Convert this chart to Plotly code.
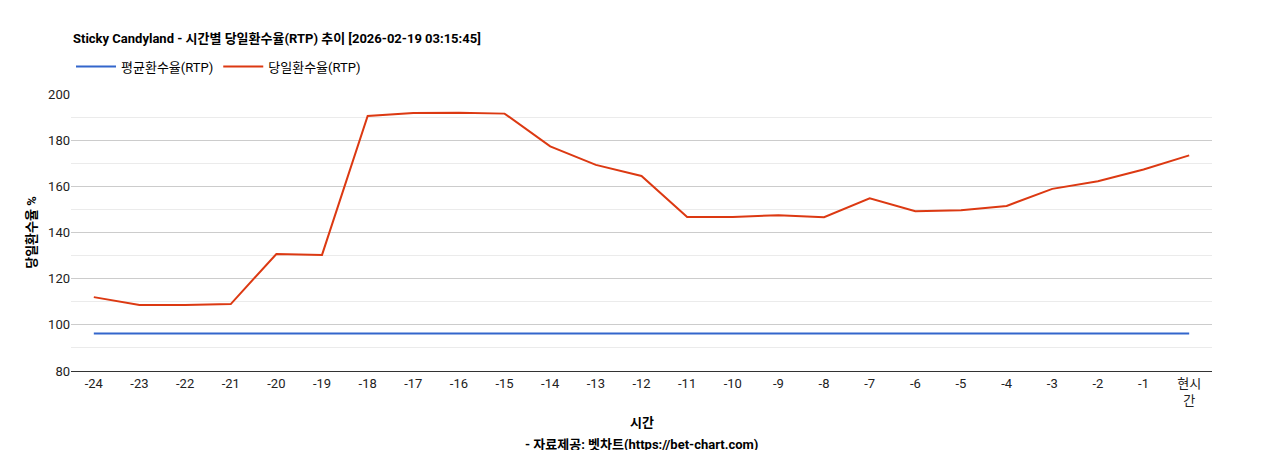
import plotly.graph_objects as go

hours = ["-24", "-23", "-22", "-21", "-20", "-19", "-18", "-17", "-16", "-15", "-14", "-13",
         "-12", "-11", "-10", "-9", "-8", "-7", "-6", "-5", "-4", "-3", "-2", "-1", "현시<br>간"]
daily_rtp = [112, 108.6, 108.6, 109, 130.7, 130.3, 190.5, 191.8, 191.9, 191.5, 177.3, 169.3,
             164.5, 146.7, 146.7, 147.5, 146.6, 154.8, 149.2, 149.6, 151.5, 158.9, 162.2, 167.3, 173.4]
avg_rtp = [96.2] * len(hours)

fig = go.Figure([
    go.Scatter(x=hours, y=avg_rtp, mode="lines", name="평균환수율(RTP)",
               line=dict(color="#3366cc", width=2)),
    go.Scatter(x=hours, y=daily_rtp, mode="lines", name="당일환수율(RTP)",
               line=dict(color="#dc3912", width=2)),
])

fig.update_layout(
    width=1268, height=450,
    font=dict(family="Roboto, Noto Sans CJK KR, Arial", size=13, color="#222"),
    plot_bgcolor="white", paper_bgcolor="white",
    margin=dict(l=63, r=64, t=86, b=87, autoexpand=False),
    legend=dict(orientation="h", x=0, xanchor="left", y=1.045, yanchor="bottom",
                font=dict(size=13, color="#000"), itemwidth=40),
    showlegend=True,
)
fig.update_xaxes(range=[-0.5, 24.5], showgrid=False, showline=True, linecolor="#333",
                 ticks="", automargin=False, tickfont=dict(size=13, color="#222"))
fig.update_yaxes(range=[80, 200], dtick=20, showgrid=True, gridcolor="#cccccc",
                 minor=dict(dtick=10, showgrid=True, gridcolor="#ebebeb"),
                 zeroline=False, automargin=False, tickfont=dict(size=13, color="#222"),
                 title=dict(text="<b>당일환수율 %</b>", font=dict(size=13, color="#000"), standoff=8))
fig.add_annotation(text="<b>Sticky Candyland - 시간별 당일환수율(RTP) 추이 [2026-02-19 03:15:45]</b>",
                   xref="paper", yref="paper", x=0, xanchor="left", y=1.202, yanchor="middle",
                   showarrow=False, font=dict(size=13, color="#000"))
fig.add_annotation(text="<b>시간</b>", xref="paper", yref="paper", x=0.5, y=-0.187,
                   yanchor="middle", showarrow=False, font=dict(size=13, color="#000"))
fig.add_annotation(text="<b>- 자료제공: 벳차트(https://bet-chart.com)</b>", xref="paper", yref="paper",
                   x=0.5, y=-0.267, yanchor="middle", showarrow=False, font=dict(size=13, color="#000"))

fig.write_html("out.html")
